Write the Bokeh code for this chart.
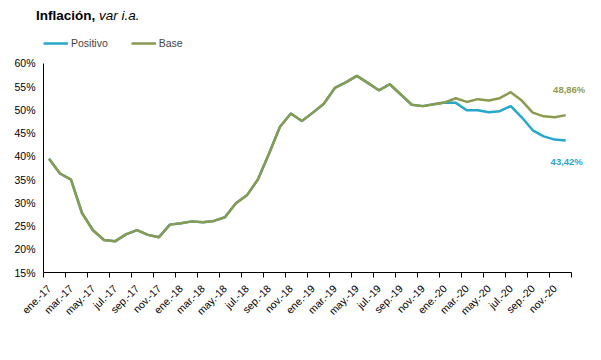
from bokeh.plotting import figure
from bokeh.layouts import column
from bokeh.models import (ColumnDataSource, FixedTicker, Legend, LegendItem, Label, Range1d, Div)
from bokeh.embed import file_html
from bokeh.resources import INLINE

months = ["ene.", "feb.", "mar.", "abr.", "may.", "jun.", "jul.", "ago.", "sep.", "oct.", "nov.", "dic."]
years = ["17", "18", "19", "20"]
labels = [f"{m}-{y}" for y in years for m in months]

base = [39.5, 36.3, 35.0, 27.8, 24.1, 22.0, 21.7, 23.2, 24.1, 23.1, 22.6, 25.3,
        25.6, 26.0, 25.8, 26.1, 26.9, 29.9, 31.6, 35.0, 40.5, 46.3, 49.2, 47.6,
        49.4, 51.3, 54.7, 55.9, 57.3, 55.8, 54.2, 55.5, 53.3, 51.1, 50.8, 51.2,
        51.6, 52.5, 51.7, 52.3, 52.0, 52.5, 53.8, 52.0, 49.4, 48.6, 48.4, 48.86]
positivo = base[:37] + [51.5, 49.9, 49.9, 49.5, 49.7, 50.8, 48.4, 45.6, 44.3, 43.6, 43.42]

yticks = [15, 20, 25, 30, 35, 40, 45, 50, 55, 60]

BASE_C = "#8A9A50"
POS_C = "#25A8CC"
FONT = "Liberation Sans"

n = len(labels)
x = list(range(n))
src = ColumnDataSource(dict(x=x, base=base, positivo=positivo))

title = Div(text='<div style="font-family:\'Liberation Sans\',Arial,sans-serif;font-size:13.5px;'
                 'line-height:14px;color:#000;white-space:nowrap;margin-top:-2px">'
                 '<b>Inflación,</b> <i>var i.a.</i></div>',
            width=300, height=20, margin=(8, 0, 0, 36))

p = figure(width=587, height=312, output_backend="svg", toolbar_location=None,
           x_range=Range1d(-0.5, n + 0.8), y_range=Range1d(15, 67.5),
           min_border_left=43, min_border_right=2, min_border_top=0, min_border_bottom=68)
p.outline_line_color = None
p.xgrid.visible = False
p.ygrid.visible = False

r_pos = p.line("x", "positivo", source=src, line_color=POS_C, line_width=2.5)
r_base = p.line("x", "base", source=src, line_color=BASE_C, line_width=2.5)

even = list(range(0, n, 2))
p.xaxis.bounds = (-0.5, n - 0.5)
p.xaxis.ticker = FixedTicker(ticks=even, minor_ticks=[i - 0.5 for i in range(0, n + 1, 2)])
p.xaxis.major_label_overrides = {i: labels[i] for i in even}
p.xaxis.major_tick_out = 0
p.xaxis.major_tick_in = 0
p.xaxis.minor_tick_out = 5
p.xaxis.minor_tick_in = 0
p.xaxis.major_label_orientation = 0.785398
p.xaxis.major_label_standoff = 9
p.xaxis.major_label_text_font = FONT
p.xaxis.major_label_text_font_size = "10.5px"
p.xaxis.major_label_text_color = "#000000"
p.xaxis.axis_line_color = "#000000"
p.xaxis.minor_tick_line_color = "#000000"

p.yaxis.bounds = (15, 60)
p.yaxis.ticker = FixedTicker(ticks=yticks)
p.yaxis.major_label_overrides = {v: f"{v}%" for v in yticks}
p.yaxis.major_tick_out = 0
p.yaxis.major_tick_in = 0
p.yaxis.minor_tick_out = 0
p.yaxis.minor_tick_in = 0
p.yaxis.major_label_standoff = 8
p.yaxis.major_label_text_font = FONT
p.yaxis.major_label_text_font_size = "10.5px"
p.yaxis.major_label_text_color = "#000000"
p.yaxis.axis_line_color = "#000000"

legend = Legend(items=[LegendItem(label="Positivo", renderers=[r_pos]),
                       LegendItem(label="Base", renderers=[r_base])],
                orientation="horizontal", location=(0, 223), padding=0, margin=0,
                spacing=23, glyph_width=25, glyph_height=12, label_height=12,
                label_standoff=3, label_text_font=FONT, label_text_font_size="10.5px",
                border_line_color=None, background_fill_alpha=0)
p.add_layout(legend, "center")

def fmt(v):
    return f"{v:.2f}".replace(".", ",") + "%"

last = n - 1
p.add_layout(Label(x=last, y=base[-1], text=fmt(base[-1]), x_offset=3.5, y_offset=26,
                   text_align="center", text_baseline="middle", text_font=FONT,
                   text_font_size="9.5px", text_font_style="bold", text_color="#8F9A4F"))
p.add_layout(Label(x=last, y=positivo[-1], text=fmt(positivo[-1]), x_offset=1, y_offset=-21,
                   text_align="center", text_baseline="middle", text_font=FONT,
                   text_font_size="9.5px", text_font_style="bold", text_color=POS_C))

layout = column(title, p, spacing=0)
open("out.html", "w").write(file_html(layout, INLINE))
